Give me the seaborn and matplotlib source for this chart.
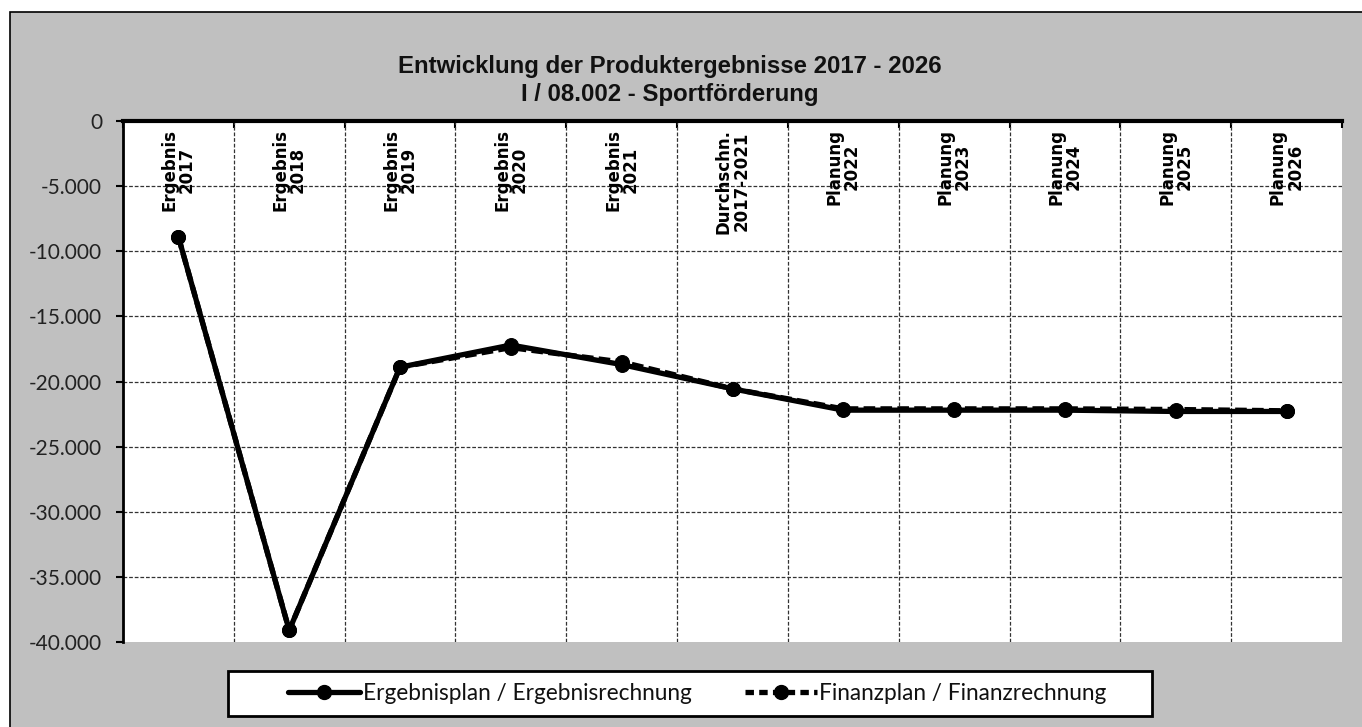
import matplotlib
matplotlib.use("Agg")
import matplotlib.pyplot as plt
from matplotlib.patches import Rectangle
from matplotlib.lines import Line2D
from matplotlib.ticker import FixedLocator, FuncFormatter
import seaborn as sns
import pandas as pd
import numpy as np

# --- data -------------------------------------------------------------
categories = [
    "Ergebnis\n2017", "Ergebnis\n2018", "Ergebnis\n2019", "Ergebnis\n2020",
    "Ergebnis\n2021", "Durchschn.\n2017-2021", "Planung\n2022", "Planung\n2023",
    "Planung\n2024", "Planung\n2025", "Planung\n2026",
]
ergebnis = [-8900, -39100, -18900, -17200, -18700, -20560,
            -22200, -22200, -22200, -22300, -22300]
finanz = [-8900, -39100, -18900, -17400, -18500, -20560,
          -22100, -22100, -22100, -22150, -22250]
series_names = ["Ergebnisplan / Ergebnisrechnung", "Finanzplan / Finanzrechnung"]
y_ticks = [0, -5000, -10000, -15000, -20000, -25000, -30000, -35000, -40000]
title_lines = ["Entwicklung der Produktergebnisse 2017 - 2026",
               "I / 08.002 - Sportförderung"]

# --- figure -------------------------------------------------------------
sns.set_theme(style="white")
W, H = 1362, 727
fig = plt.figure(figsize=(W / 100, H / 100), dpi=100)
fig.patch.set_facecolor("white")

# grey chart area with black border on the left and top
fig.patches.append(Rectangle((10 / W, -0.01), (W - 10) / W + 0.01, (H - 12) / H + 0.01,
                             transform=fig.transFigure, facecolor="#C0C0C0",
                             edgecolor="black", linewidth=1.2, zorder=-2))

ax = fig.add_axes([123 / W, 1 - 642 / H, (1342 - 123) / W, (642 - 121) / H])
ax.set_facecolor("white")
ax.set_zorder(1)

pos = np.arange(len(categories))
df = pd.DataFrame({"pos": np.concatenate([pos, pos]),
                   "value": ergebnis + finanz,
                   "series": [series_names[0]] * len(pos) + [series_names[1]] * len(pos)})

lw = 3.8
dash = (2.2, 1.0)
sns.lineplot(data=df[df.series == series_names[0]], x="pos", y="value", ax=ax,
             color="black", linewidth=lw, marker="o", markersize=10,
             markeredgecolor="black", legend=False, zorder=4)
sns.lineplot(data=df[df.series == series_names[1]], x="pos", y="value", ax=ax,
             color="black", linewidth=lw, marker="o", markersize=10,
             markeredgecolor="black", legend=False, zorder=5)
ax.lines[1].set_dashes(dash)

ax.set_xlim(-0.5, len(categories) - 0.5)
ax.set_ylim(-40000, 0)
ax.set_xlabel("")
ax.set_ylabel("")

# y axis
ax.yaxis.set_major_locator(FixedLocator(y_ticks))
ax.yaxis.set_major_formatter(FuncFormatter(lambda v, p: f"{int(v):,}".replace(",", ".")))
ax.tick_params(axis="y", which="major", direction="out", length=5, width=1.5,
               color="black", labelsize=15, pad=10, left=True)
for lab in ax.get_yticklabels():
    lab.set_fontfamily("Lato")
    lab.set_color("#222222")

# x axis sits at the zero line on top; ticks at category boundaries
bounds = np.arange(-0.5, len(categories), 1.0)
ax.xaxis.set_major_locator(FixedLocator(bounds))
ax.xaxis.tick_top()
ax.tick_params(axis="x", which="major", direction="in", length=5, width=1.5,
               color="black", labeltop=False, labelbottom=False, top=True, bottom=False)

# dashed grid
grid_kw = dict(color="#333333", linewidth=0.9, linestyle=(0, (3, 1.5)), zorder=1)
for yv in y_ticks[1:-1]:
    ax.axhline(yv, **grid_kw)
for xv in bounds[1:-1]:
    ax.axvline(xv, **grid_kw)

for side in ["right", "bottom"]:
    ax.spines[side].set_visible(False)
ax.spines["left"].set_linewidth(2)
ax.spines["left"].set_color("black")
ax.spines["top"].set_linewidth(3)
ax.spines["top"].set_color("black")

# category labels inside the plot, rotated
for p, cat in zip(pos, categories):
    ax.text(p, -600, cat, rotation=90, ha="center", va="top", multialignment="center",
            fontsize=12, fontweight="bold", family="DejaVu Sans", linespacing=0.95,
            color="black", zorder=6)

# title
fig.text(670 / W, 1 - 67 / H, title_lines[0], ha="center", va="center",
         fontsize=17.3, fontweight="bold", family="Liberation Sans", color="#111111")
fig.text(670 / W, 1 - 95 / H, title_lines[1], ha="center", va="center",
         fontsize=17.3, fontweight="bold", family="Liberation Sans", color="#111111")

# legend frame and entries
fig.patches.append(Rectangle((228 / W, 1 - 716 / H), (1152 - 228) / W, 45 / H,
                             transform=fig.transFigure, facecolor="white",
                             edgecolor="black", linewidth=2, zorder=2))
handles = [
    Line2D([], [], color="black", linewidth=lw, marker="o", markersize=10),
    Line2D([], [], color="black", linewidth=lw, marker="o", markersize=10, dashes=(1.6, 1.0)),
]
leg = fig.legend(handles, series_names, loc="center left",
                 bbox_to_anchor=(288 / W, 1 - 693 / H), ncol=2, frameon=False,
                 handlelength=3.2, handletextpad=0.1, columnspacing=2.35,
                 borderaxespad=0, borderpad=0,
                 prop={"family": "Lato", "size": 16.3})
leg.set_zorder(3)
for t in leg.get_texts():
    t.set_color("#111111")

fig.savefig("out.png", dpi=100)
